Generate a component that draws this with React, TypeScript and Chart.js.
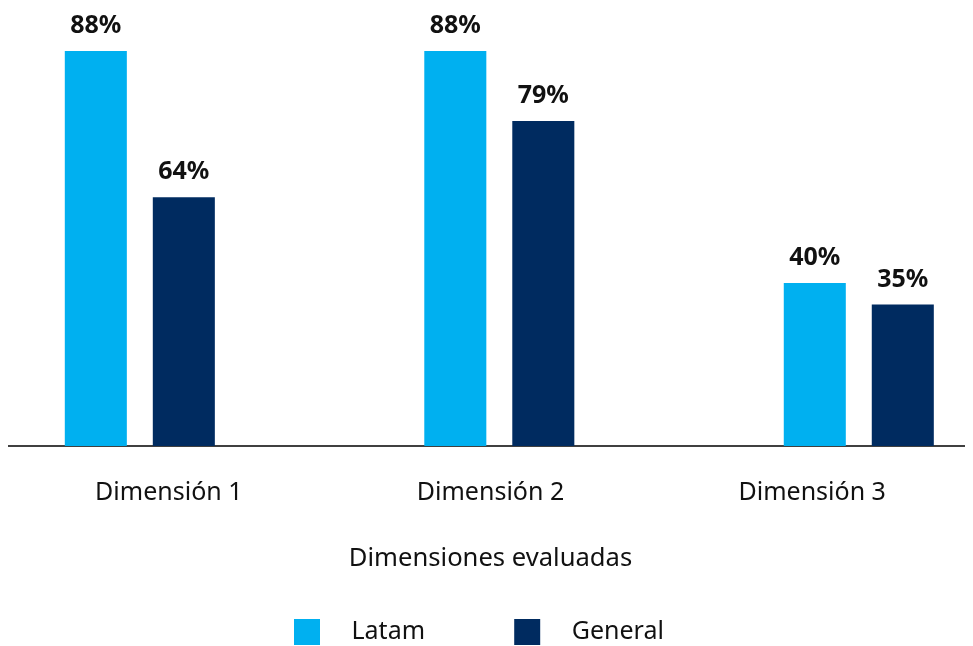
import React, { useEffect, useRef } from 'react';
import { Chart, registerables } from 'chart.js';

Chart.register(...registerables);

// ---- data ----
const categories = ['Dimensión 1', 'Dimensión 2', 'Dimensión 3'];
const seriesNames = ['Latam', 'General'];
// bar heights as drawn (scale where the first 88% bar reads 88)
const latamValues = [88, 88, 36.3];
const generalValues = [55.4, 72.4, 31.5];
// printed value labels
const latamLabels = ['88%', '88%', '40%'];
const generalLabels = ['64%', '79%', '35%'];
const axisTitle = 'Dimensiones evaluadas';

const FONT = '"Noto Sans", "DejaVu Sans", sans-serif';
const LIGHT = '#00B0F0';
const NAVY = '#002B60';
const TEXT = '#111111';

const valueLabelPlugin = {
  id: 'valueLabels',
  afterDatasetsDraw(chart: any) {
    const ctx = chart.ctx;
    ctx.save();
    ctx.font = `bold 25px ${FONT}`;
    ctx.fillStyle = TEXT;
    ctx.textAlign = 'center';
    ctx.textBaseline = 'alphabetic';
    chart.data.datasets.forEach((ds: any, di: number) => {
      const meta = chart.getDatasetMeta(di);
      meta.data.forEach((bar: any, i: number) => {
        ctx.fillText(ds.valueLabels[i], bar.x, bar.y - 18);
      });
    });
    ctx.restore();
  },
};

const toPoints = (vals: number[]) => vals.map((v, i) => ({ x: i, y: v }));

export default function App() {
  const ref = useRef<HTMLCanvasElement | null>(null);

  useEffect(() => {
    document.body.style.overflow = 'hidden';
    const canvas = ref.current;
    if (!canvas) return;
    const legendText = [
      '\u2002 ' + seriesNames[0] + '\u2003\u2003\u2003\u2009',
      '\u2002 ' + seriesNames[1] + '\u2002\u2009 ',
    ];
    const chart = new Chart(canvas, {
      type: 'bar',
      data: {
        labels: categories,
        datasets: [
          {
            label: seriesNames[0],
            data: toPoints(latamValues),
            xAxisID: 'xb',
            backgroundColor: LIGHT,
            borderWidth: 0,
            valueLabels: latamLabels,
          } as any,
          {
            label: seriesNames[1],
            data: toPoints(generalValues),
            xAxisID: 'xb',
            backgroundColor: NAVY,
            borderWidth: 0,
            valueLabels: generalLabels,
          } as any,
        ],
      },
      options: {
        responsive: false,
        animation: false,
        categoryPercentage: 0.4896,
        barPercentage: 0.705,
        layout: { padding: 0 },
        plugins: {
          tooltip: { enabled: false },
          legend: {
            position: 'bottom',
            labels: {
              boxWidth: 26,
              boxHeight: 26,
              padding: 10,
              color: TEXT,
              font: { family: FONT, size: 25 },
              generateLabels(c: any) {
                const items = (Chart.defaults.plugins.legend.labels as any).generateLabels(c);
                return items.map((it: any, i: number) => ({ ...it, text: legendText[i], lineWidth: 0 }));
              },
            },
          },
        },
        scales: {
          x: {
            type: 'category',
            position: 'bottom',
            grid: { display: false, drawTicks: false },
            border: { display: true, color: '#404040', width: 2 },
            ticks: { color: TEXT, font: { family: FONT, size: 25 }, padding: 32 },
            title: {
              display: true,
              text: axisTitle,
              color: TEXT,
              font: { family: FONT, size: 25.6 },
              padding: { top: 3.7, bottom: 34.6 },
            },
          },
          xb: {
            type: 'linear',
            position: 'bottom',
            display: false,
            min: -0.3667,
            max: 2.3177,
            offset: false,
            ticks: { stepSize: 1, includeBounds: false },
          },
          y: { display: false, min: 0, max: 97.6 },
        },
      },
      plugins: [valueLabelPlugin],
    } as any);
    return () => chart.destroy();
  }, []);

  return (
    <div style={{ width: 965, height: 647 }}>
      <canvas ref={ref} width={965} height={647} style={{ display: 'block' }} />
    </div>
  );
}
